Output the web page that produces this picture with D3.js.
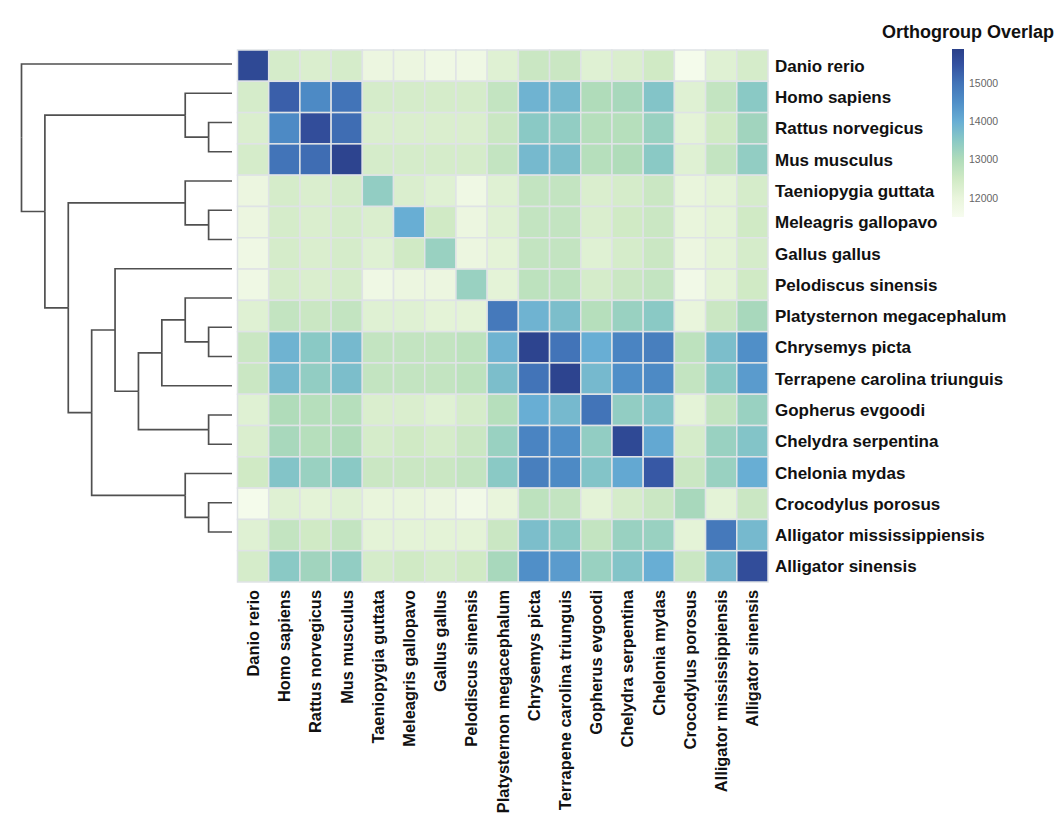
<!DOCTYPE html>
<html lang="en">
<head>
    <meta charset="UTF-8">
    <title>Orthogroup overlap heatmap</title>
    <style>
        body{
            margin: 0;
            background: #ffffff;
        }
        svg{
            font-family: "Liberation Sans", Arial, sans-serif;
        }
        .rowLabel, .colLabel{
            font-weight: bold;
            fill: #111;
        }
        .rowLabel{ font-size: 17px; }
        .colLabel{ font-size: 16.4px; }
        .dendro{
            fill: none;
            stroke: #505050;
            stroke-width: 1.7px;
        }
        .cell{
            stroke: #dfe3e6;
            stroke-width: 1.5px;
        }
        .legendTitle{
            font-weight: bold;
            font-size: 18px;
            fill: #111;
        }
        .legendTick{
            font-size: 10.5px;
            fill: #666;
        }
    </style>
    <script src="https://cdn.jsdelivr.net/npm/d3@7"></script>
</head>
<body>
<svg id="main" width="1064" height="822"></svg>
<script>
    // species in heatmap order (rows top->bottom, cols left->right)
    const species = [
        "Danio rerio", "Homo sapiens", "Rattus norvegicus", "Mus musculus",
        "Taeniopygia guttata", "Meleagris gallopavo", "Gallus gallus",
        "Pelodiscus sinensis", "Platysternon megacephalum", "Chrysemys picta",
        "Terrapene carolina triunguis", "Gopherus evgoodi", "Chelydra serpentina",
        "Chelonia mydas", "Crocodylus porosus", "Alligator mississippiensis",
        "Alligator sinensis"
    ]

    // orthogroup overlap
    const overlap = [
        [15700,12400,12300,12400,11900,11900,11800,11800,12200,12600,12600,12200,12300,12500,11600,12200,12400],
        [12400,15300,14600,15000,12400,12400,12400,12400,12700,13900,13800,13000,13100,13600,12200,12700,13500],
        [12300,14600,15600,15100,12300,12300,12300,12300,12600,13500,13400,12900,12900,13300,12100,12500,13200],
        [12400,15000,15100,15800,12400,12400,12400,12400,12700,13800,13700,12900,13000,13500,12200,12700,13400],
        [11900,12400,12300,12400,13400,12300,12200,11800,12200,12700,12700,12300,12400,12600,12000,12100,12400],
        [11900,12400,12300,12400,12300,14000,12500,11900,12200,12700,12700,12300,12500,12600,12000,12100,12500],
        [11800,12400,12300,12400,12200,12500,13300,11900,12100,12700,12700,12200,12400,12600,11900,12100,12400],
        [11800,12400,12300,12400,11800,11900,11900,13300,12100,12800,12800,12400,12600,12700,11700,12100,12500],
        [12200,12700,12600,12700,12200,12200,12100,12100,14900,13900,13700,12900,13300,13500,12000,12600,13100],
        [12600,13900,13500,13800,12700,12700,12700,12800,13900,15800,15000,14000,14700,14800,12800,13700,14500],
        [12600,13800,13400,13700,12700,12700,12700,12800,13700,15000,15800,13800,14500,14600,12700,13500,14300],
        [12200,13000,12900,12900,12300,12300,12200,12400,12900,14000,13800,15000,13400,13600,12100,12700,13300],
        [12300,13100,12900,13000,12400,12500,12400,12600,13300,14700,14500,13400,15700,14100,12400,13300,13600],
        [12500,13600,13300,13500,12600,12600,12600,12700,13500,14800,14600,13600,14100,15400,12600,13300,14000],
        [11600,12200,12100,12200,12000,12000,11900,11700,12000,12800,12700,12100,12400,12600,13100,12100,12600],
        [12200,12700,12500,12700,12100,12100,12100,12100,12600,13700,13500,12700,13300,13300,12100,14900,13800],
        [12400,13500,13200,13400,12400,12500,12400,12500,13100,14500,14300,13300,13600,14000,12600,13800,15600]
    ]

    // dendrogram: [height, left, right]
    const tree = [9, "Danio rerio",
        [8,
            [2, "Homo sapiens", [1, "Rattus norvegicus", "Mus musculus"]],
            [7,
                [2, "Taeniopygia guttata", [1, "Meleagris gallopavo", "Gallus gallus"]],
                [6,
                    [5, "Pelodiscus sinensis",
                        [4,
                            [3, [2, "Platysternon megacephalum", [1, "Chrysemys picta", "Terrapene carolina triunguis"]], "Gopherus evgoodi"],
                            [1, "Chelydra serpentina", "Chelonia mydas"]]],
                    [2, "Crocodylus porosus", [1, "Alligator mississippiensis", "Alligator sinensis"]]]]]]

    const legendTicks = [12000, 13000, 14000, 15000]
    const colorStops = [11500, 12000, 12500, 13000, 13500, 14000, 14500, 15000, 15500, 15900]
    const colorRange = ["#f7fcef","#e9f5dc","#d0eac5","#b0dcba","#8ac9c5","#68aed4","#508fc8","#4274b8","#3451a0","#2a4089"]

    const svg = d3.select("#main")
    const color = d3.scaleLinear().domain(colorStops).range(colorRange).clamp(true)

    const xScale = d3.scaleBand().domain(species).range([237.5, 768])
    const yScale = d3.scaleBand().domain(species).range([50, 582])

    // cells
    const cells = []
    overlap.forEach((row, i) => row.forEach((v, j) => cells.push({r: species[i], c: species[j], v: v})))
    svg.append("g")
        .selectAll("rect")
        .data(cells)
        .enter()
        .append("rect")
        .attr("class", "cell")
        .attr("x", d => xScale(d.c))
        .attr("y", d => yScale(d.r))
        .attr("width", xScale.bandwidth())
        .attr("height", yScale.bandwidth())
        .attr("fill", d => color(d.v))

    // labels
    svg.append("g")
        .selectAll("text")
        .data(species)
        .enter()
        .append("text")
        .attr("class", "rowLabel")
        .attr("x", 775)
        .attr("y", d => yScale(d) + yScale.bandwidth() / 2)
        .attr("dy", "0.36em")
        .text(d => d)

    svg.append("g")
        .selectAll("text")
        .data(species)
        .enter()
        .append("text")
        .attr("class", "colLabel")
        .attr("text-anchor", "end")
        .attr("transform", d => `translate(${xScale(d) + xScale.bandwidth() / 2},590) rotate(-90)`)
        .attr("dy", "0.36em")
        .text(d => d)

    // dendrogram
    const root = d3.hierarchy(tree, d => Array.isArray(d) ? d.slice(1) : null)
    const leafY = d3.scalePoint().domain(species).range([64, 532])
    const hX = d3.scaleLinear().domain([0, 9]).range([232, 21.5])
    root.eachAfter(n => {
        if (n.children) {
            n.px = hX(n.data[0])
            n.py = d3.mean(n.children, c => c.py)
        } else {
            n.px = hX(0)
            n.py = leafY(n.data)
        }
    })
    svg.append("g")
        .selectAll("path")
        .data(root.links())
        .enter()
        .append("path")
        .attr("class", "dendro")
        .attr("d", l => `M${l.source.px},${l.source.py}V${l.target.py}H${l.target.px}`)

    // legend
    const legY = d3.scaleLinear().domain([11500, 15900]).range([217, 49])
    const grad = svg.append("defs").append("linearGradient")
        .attr("id", "legGrad")
        .attr("x1", 0).attr("y1", 1).attr("x2", 0).attr("y2", 0)
    grad.selectAll("stop")
        .data(colorStops)
        .enter()
        .append("stop")
        .attr("offset", d => (d - 11500) / (15900 - 11500))
        .attr("stop-color", d => color(d))
    svg.append("rect")
        .attr("x", 952)
        .attr("y", legY(15900))
        .attr("width", 12)
        .attr("height", legY(11500) - legY(15900))
        .attr("fill", "url(#legGrad)")
    svg.append("g")
        .selectAll("text")
        .data(legendTicks)
        .enter()
        .append("text")
        .attr("class", "legendTick")
        .attr("x", 969)
        .attr("y", d => legY(d))
        .attr("dy", "0.35em")
        .text(d => d)
    svg.append("text")
        .attr("class", "legendTitle")
        .attr("x", 968)
        .attr("y", 38)
        .attr("text-anchor", "middle")
        .text("Orthogroup Overlap")
</script>
</body>
</html>
